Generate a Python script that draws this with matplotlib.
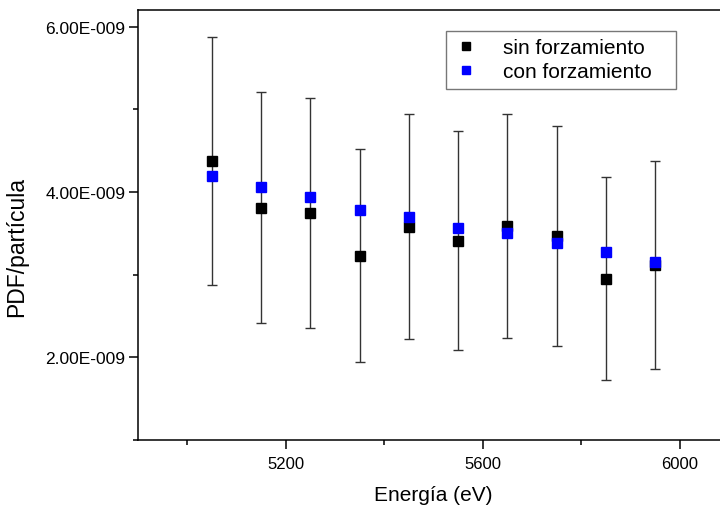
import matplotlib.pyplot as plt
from matplotlib.ticker import MultipleLocator, FuncFormatter

plt.rcParams['font.family'] = ['Liberation Sans', 'DejaVu Sans']

# Energy bins (eV)
energia = [5050, 5150, 5250, 5350, 5450, 5550, 5650, 5750, 5850, 5950]

# PDF per particle, in units of 1e-9
sin_forz = [4.38, 3.81, 3.75, 3.23, 3.58, 3.41, 3.59, 3.47, 2.95, 3.12]
sin_err = [1.50, 1.395, 1.39, 1.285, 1.36, 1.325, 1.36, 1.335, 1.227, 1.26]
con_forz = [4.20, 4.06, 3.94, 3.78, 3.70, 3.57, 3.51, 3.38, 3.28, 3.15]

scale = 1e-9

fig = plt.figure(figsize=(7.2, 5.1), dpi=100)
ax = fig.add_axes([0.1917, 0.1353, 0.821, 0.8427])

ax.errorbar(energia, [v * scale for v in sin_forz], yerr=[e * scale for e in sin_err],
            fmt='none', ecolor='#333333', elinewidth=1, capsize=3.5, capthick=1, zorder=1)
ax.plot(energia, [v * scale for v in sin_forz], 's', color='black', markersize=6.5,
        linestyle='none', label='sin forzamiento', zorder=2)
ax.plot(energia, [v * scale for v in con_forz], 's', color='#0000ff', markersize=6.5,
        linestyle='none', label='con forzamiento', zorder=3)

ax.set_xlim(4900, 6100)
ax.set_ylim(1.0e-9, 6.2e-9)

ax.xaxis.set_major_locator(MultipleLocator(400))
ax.xaxis.set_minor_locator(MultipleLocator(200))
ax.yaxis.set_major_locator(MultipleLocator(2e-9))
ax.yaxis.set_minor_locator(MultipleLocator(1e-9))


def fmt_e(v, pos):
    s = f"{v:.2E}"
    mant, exp = s.split('E')
    sign = exp[0]
    return f"{mant}E{sign}{int(exp[1:]):03d}"


ax.yaxis.set_major_formatter(FuncFormatter(fmt_e))

for s in ax.spines.values():
    s.set_linewidth(1.1)
ax.spines['right'].set_visible(False)
ax.tick_params(which='major', direction='out', length=6.5, width=1.1)
ax.tick_params(axis='y', labelsize=12.5, pad=2.5)
ax.tick_params(axis='x', labelsize=12, pad=5)
ax.tick_params(which='minor', direction='out', length=3.5, width=1.1)
ax.tick_params(top=False, right=False, which='both')

ax.set_xlabel('Energía (eV)', fontsize=15)
ax.set_ylabel('PDF/partícula', fontsize=16.5)
ax.xaxis.set_label_coords(0.5, -0.105)
ax.yaxis.set_label_coords(-0.186, 0.452)

leg = ax.legend(loc='upper left', bbox_to_anchor=(446 / 720, 1 - 90 / 510, 230 / 720, 58 / 510),
                bbox_transform=fig.transFigure, mode='expand', fontsize=15, frameon=True,
                fancybox=False, borderaxespad=0, handlelength=1.2, handletextpad=1.2,
                borderpad=0.35, labelspacing=0.25, markerscale=0.8)
leg.get_frame().set_edgecolor('#555555')
leg.get_frame().set_linewidth(1)

fig.savefig('out.png', dpi=100)
